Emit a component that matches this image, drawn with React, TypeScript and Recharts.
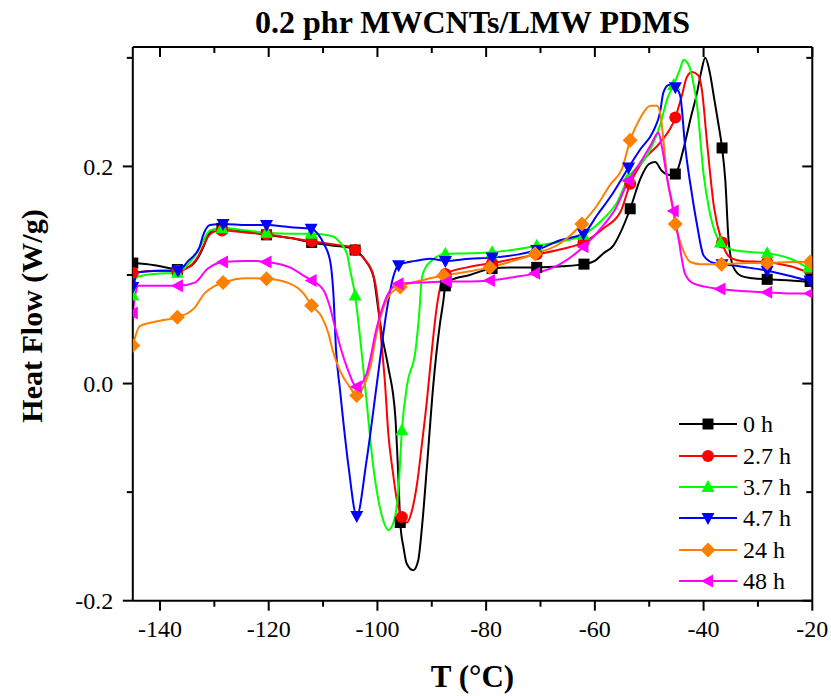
import React from 'react'
import { LineChart, Line, XAxis, YAxis, Legend } from 'recharts'

const SERIF = '"Liberation Serif", "Times New Roman", serif'

// axis ticks (every 10 / 0.1, labels only on the majors)
const xTicks = [-140, -130, -120, -110, -100, -90, -80, -70, -60, -50, -40, -30, -20]
const xMajor = [-140, -120, -100, -80, -60, -40, -20]
const yTicks = [-0.2, -0.1, 0, 0.1, 0.2, 0.3]
const yMajor = [-0.2, 0, 0.2]

// 0 h
const t0 = [-145, -141, -137.9, -136.8, -134.5, -133, -132, -131.2, -130, -128.6, -124, -120.4, -116, -112.1, -108, -105, -104.1, -102.3, -100.7, -99.8, -99.2, -98, -96.7, -96.1, -95.8, -95.2, -94.6, -93.4, -92.5, -91.8, -90.9, -89.7, -88.5, -87.9, -87.5, -86.6, -83, -78.9, -74, -70.7, -66, -62, -60, -58.4, -56.6, -55.3, -53.5, -51.6, -50.1, -48.9, -47.7, -46.1, -45.2, -43.7, -42.4, -41.2, -40.4, -39.7, -38.8, -38.1, -37.3, -36.6, -36, -35.4, -34.5, -33, -31, -28.3, -24, -20.4, -20]
const hf0 = [0.111, 0.109, 0.106, 0.105, 0.108, 0.116, 0.126, 0.136, 0.142, 0.143, 0.14, 0.137, 0.134, 0.13, 0.127, 0.125, 0.123, 0.114, 0.098, 0.067, 0.046, 0.015, -0.031, -0.092, -0.128, -0.151, -0.166, -0.172, -0.163, -0.132, -0.077, 0, 0.055, 0.075, 0.09, 0.095, 0.1, 0.106, 0.107, 0.107, 0.108, 0.11, 0.113, 0.12, 0.127, 0.139, 0.161, 0.189, 0.202, 0.204, 0.196, 0.192, 0.193, 0.216, 0.244, 0.268, 0.288, 0.3, 0.285, 0.264, 0.24, 0.217, 0.187, 0.132, 0.107, 0.099, 0.097, 0.096, 0.095, 0.094, 0.094]
const m0 = [-145, -136.8, -128.6, -120.4, -112.1, -104.1, -95.8, -87.5, -78.9, -70.7, -62, -53.5, -45.2, -36.6, -28.3, -20.4]

// 2.7 h
const t1 = [-145, -141, -136.8, -134.5, -133, -132, -131.2, -130, -128.6, -124, -120.4, -116, -112.1, -108, -105, -104.1, -102.3, -100.7, -99.8, -99.3, -98.6, -98, -97.2, -96.4, -95.5, -94.6, -93.7, -92.7, -91.8, -90.9, -90, -89.1, -88.3, -87.5, -83.5, -78.9, -73.7, -70.7, -66, -62.1, -58.4, -55.3, -53.5, -51, -48, -45.2, -44, -43.1, -42.1, -41, -40.3, -39.4, -38.1, -36.6, -35.1, -33, -28.3, -24, -20.4, -20]
const hf1 = [0.102, 0.104, 0.104, 0.108, 0.117, 0.127, 0.135, 0.14, 0.141, 0.139, 0.1375, 0.134, 0.131, 0.128, 0.126, 0.123, 0.114, 0.099, 0.07, 0.04, 0, -0.046, -0.08, -0.108, -0.123, -0.128, -0.118, -0.092, -0.055, -0.016, 0.03, 0.07, 0.092, 0.101, 0.107, 0.111, 0.116, 0.119, 0.124, 0.13, 0.143, 0.158, 0.184, 0.206, 0.222, 0.245, 0.265, 0.282, 0.287, 0.284, 0.27, 0.224, 0.163, 0.13, 0.116, 0.113, 0.112, 0.108, 0.103, 0.103]
const m1 = [-145, -136.8, -128.6, -120.4, -112.1, -104.1, -95.5, -87.5, -78.9, -70.7, -62.1, -53.5, -45.2, -36.6, -28.3, -20.4]

// 3.7 h
const t2 = [-145, -144.3, -141, -136.8, -134.8, -133, -132, -130.8, -128.6, -124, -120.4, -116, -112.2, -108.4, -106.9, -105.6, -105, -104.1, -103.2, -102, -100.8, -99.8, -98.8, -98, -97.2, -96.5, -96.1, -95.5, -94.5, -93, -92.3, -91.8, -91, -90.3, -87.5, -83, -78.9, -74, -70.7, -66, -62.1, -58.4, -55.9, -53.8, -50.4, -48, -46.7, -45.5, -44.3, -43.7, -42.7, -41.7, -41.2, -40, -38.8, -36.9, -34.5, -31, -28.3, -24, -20.7, -20]
const hf2 = [0.081, 0.098, 0.101, 0.102, 0.11, 0.122, 0.132, 0.141, 0.143, 0.141, 0.139, 0.138, 0.138, 0.136, 0.13, 0.1195, 0.104, 0.081, 0.043, -0.016, -0.075, -0.108, -0.128, -0.135, -0.13, -0.115, -0.095, -0.043, 0, 0.03, 0.065, 0.098, 0.108, 0.112, 0.1195, 0.12, 0.121, 0.124, 0.127, 0.131, 0.137, 0.152, 0.167, 0.19, 0.21, 0.238, 0.262, 0.275, 0.29, 0.298, 0.293, 0.272, 0.256, 0.193, 0.156, 0.13, 0.123, 0.121, 0.12, 0.115, 0.107, 0.106]
const m2 = [-145, -136.8, -128.6, -120.4, -112.2, -104.1, -95.5, -87.5, -78.9, -70.7, -62.1, -53.8, -45.5, -36.9, -28.3, -20.7]

// 4.7 h
const t3 = [-145, -144, -140, -136.7, -134.8, -132.7, -132.1, -130.8, -128.4, -124, -120.4, -116, -112.2, -111, -109.9, -108.7, -108.1, -107.6, -106.9, -105.3, -103.8, -102, -100.1, -98.3, -97.1, -96.1, -93, -90.3, -87.5, -83, -78.9, -74, -70.7, -66.4, -62.1, -59.6, -56.6, -53.8, -51.6, -49.2, -48, -47.4, -46.4, -45.2, -44.3, -43.4, -42.1, -41.2, -40, -38.1, -36.6, -32, -28.3, -24, -20.4, -20]
const hf3 = [0.089, 0.1026, 0.104, 0.104, 0.113, 0.126, 0.136, 0.146, 0.147, 0.146, 0.146, 0.144, 0.1426, 0.138, 0.129, 0.113, 0.083, 0.03, -0.005, -0.077, -0.122, -0.071, 0, 0.067, 0.098, 0.109, 0.113, 0.115, 0.113, 0.115, 0.116, 0.119, 0.123, 0.132, 0.138, 0.155, 0.176, 0.199, 0.216, 0.233, 0.25, 0.268, 0.275, 0.273, 0.265, 0.219, 0.173, 0.146, 0.118, 0.111, 0.11, 0.107, 0.104, 0.099, 0.095, 0.095]
const m3 = [-145, -136.7, -128.4, -120.4, -112.2, -103.8, -96.1, -87.5, -78.9, -70.7, -62.1, -53.8, -45.2, -36.6, -28.3, -20.4]

// 24 h
const t4 = [-145, -143.7, -139.8, -136.8, -133.6, -131.8, -129.9, -128.4, -124, -120.4, -116.1, -113.6, -112.1, -110.2, -109, -108.2, -106.9, -105.1, -103.8, -102.3, -101.3, -100.2, -99.2, -97.7, -95.8, -92, -87.8, -83.5, -79.3, -75, -71, -66.4, -62.4, -59.6, -57.2, -55, -53.5, -51.6, -49.8, -48.6, -48, -47.4, -46.7, -46, -45.2, -44, -42.4, -40.6, -36.7, -32, -28.3, -24, -20.4, -20]
const hf4 = [0.035, 0.053, 0.058, 0.061, 0.07, 0.083, 0.09, 0.093, 0.097, 0.0965, 0.092, 0.083, 0.072, 0.061, 0.046, 0.03, 0.012, -0.003, -0.011, 0, 0.015, 0.045, 0.065, 0.082, 0.089, 0.095, 0.0995, 0.103, 0.107, 0.113, 0.1195, 0.129, 0.147, 0.164, 0.183, 0.198, 0.224, 0.245, 0.256, 0.256, 0.25, 0.225, 0.189, 0.17, 0.147, 0.126, 0.112, 0.11, 0.11, 0.111, 0.111, 0.112, 0.112, 0.112]
const m4 = [-145, -136.8, -128.4, -120.4, -112.1, -103.8, -95.8, -87.8, -79.3, -71, -62.4, -53.5, -45.2, -36.7, -28.3, -20.4]

// 48 h
const t5 = [-145, -144.6, -144, -140, -136.7, -133.6, -131.2, -129.3, -128.4, -124, -120.4, -116.1, -113.6, -112.1, -109.9, -108.7, -107.8, -106.6, -105.6, -103.8, -102, -100.1, -98.3, -96.1, -92, -87.2, -83, -79.3, -75, -71, -66.4, -62.1, -58.4, -56.2, -53.8, -51.6, -49.8, -48.3, -47.7, -46.7, -45.5, -44.6, -43.4, -41.8, -36.9, -32, -28.3, -24, -20.4, -20]
const hf5 = [0.065, 0.08, 0.09, 0.09, 0.09, 0.093, 0.106, 0.111, 0.112, 0.113, 0.112, 0.107, 0.0995, 0.095, 0.086, 0.07, 0.052, 0.03, 0.015, -0.003, 0.009, 0.052, 0.08, 0.092, 0.093, 0.094, 0.094, 0.095, 0.098, 0.1015, 0.11, 0.126, 0.146, 0.161, 0.187, 0.204, 0.219, 0.231, 0.219, 0.189, 0.159, 0.133, 0.101, 0.092, 0.087, 0.085, 0.084, 0.083, 0.083, 0.083]
const m5 = [-145, -136.7, -128.4, -120.4, -112.1, -103.8, -96.1, -87.2, -79.3, -71, -62.1, -53.8, -45.5, -36.9, -28.3, -20.4]

type Shape = 'square' | 'circle' | 'up' | 'down' | 'diamond' | 'left'

const build = (t: number[], hf: number[], marks: number[]) =>
  t.map((x, i) => ({ t: x, hf: hf[i], m: marks.includes(x) }))

const series: { name: string; color: string; shape: Shape; data: any[] }[] = [
  { name: '0 h', color: '#000000', shape: 'square', data: build(t0, hf0, m0) },
  { name: '2.7 h', color: '#ff0000', shape: 'circle', data: build(t1, hf1, m1) },
  { name: '3.7 h', color: '#00ff00', shape: 'up', data: build(t2, hf2, m2) },
  { name: '4.7 h', color: '#0000ff', shape: 'down', data: build(t3, hf3, m3) },
  { name: '24 h', color: '#ff8000', shape: 'diamond', data: build(t4, hf4, m4) },
  { name: '48 h', color: '#ff00ff', shape: 'left', data: build(t5, hf5, m5) }
]

const marker = (shape: Shape, color: string, cx: number, cy: number, key?: string) => {
  switch (shape) {
    case 'square':
      return <rect key={key} x={cx - 5.5} y={cy - 5.5} width={11} height={11} fill={color} />
    case 'circle':
      return <circle key={key} cx={cx} cy={cy} r={6} fill={color} />
    case 'up':
      return <polygon key={key} points={`${cx},${cy - 7} ${cx + 6.5},${cy + 5} ${cx - 6.5},${cy + 5}`} fill={color} />
    case 'down':
      return <polygon key={key} points={`${cx},${cy + 7} ${cx + 6.5},${cy - 5} ${cx - 6.5},${cy - 5}`} fill={color} />
    case 'diamond':
      return <polygon key={key} points={`${cx},${cy - 7.5} ${cx + 7.5},${cy} ${cx},${cy + 7.5} ${cx - 7.5},${cy}`} fill={color} />
    default:
      return <polygon key={key} points={`${cx - 7},${cy} ${cx + 5},${cy - 6.5} ${cx + 5},${cy + 6.5}`} fill={color} />
  }
}

const isMajorY = (v: number) => yMajor.some((m) => Math.abs(m - v) < 1e-9)

// ticks drawn by hand so majors/minors get different lengths
const BottomTick = (props: any) => {
  const { x, y, payload } = props
  const major = xMajor.includes(payload.value)
  return (
    <g>
      <line x1={x} y1={y} x2={x} y2={y + (major ? 10 : 6)} stroke="#000" strokeWidth={2} />
      {major && (
        <text x={x} y={y + 36} textAnchor="middle" fontSize={24} fontFamily={SERIF} fill="#000">
          {payload.value}
        </text>
      )}
    </g>
  )
}

const TopTick = (props: any) => {
  const { x, y, payload } = props
  const major = xMajor.includes(payload.value)
  return <line x1={x} y1={y} x2={x} y2={y + (major ? 10 : 6)} stroke="#000" strokeWidth={2} />
}

const LeftTick = (props: any) => {
  const { x, y, payload } = props
  const major = isMajorY(payload.value)
  return (
    <g>
      <line x1={x} y1={y} x2={x - (major ? 10 : 6)} y2={y} stroke="#000" strokeWidth={2} />
      {major && (
        <text x={x - 19.5} y={y} dy="0.35em" textAnchor="end" fontSize={24} fontFamily={SERIF} fill="#000">
          {payload.value.toFixed(1)}
        </text>
      )}
    </g>
  )
}

const RightTick = (props: any) => {
  const { x, y, payload } = props
  const major = isMajorY(payload.value)
  return <line x1={x} y1={y} x2={x - (major ? 10 : 6)} y2={y} stroke="#000" strokeWidth={2} />
}

const LegendBox = () => (
  <div style={{ fontFamily: SERIF, fontSize: 24, color: '#000' }}>
    {series.map((s) => (
      <div key={s.name} style={{ display: 'flex', alignItems: 'center', height: 31.4 }}>
        <svg width={62} height={20} style={{ display: 'block' }}>
          <line x1={3} y1={10} x2={61} y2={10} stroke={s.color} strokeWidth={2} />
          {marker(s.shape, s.color, 32, 10)}
        </svg>
        <span style={{ marginLeft: 5, lineHeight: '24px' }}>{s.name}</span>
      </div>
    ))}
  </div>
)

const axisLine = { stroke: '#000', strokeWidth: 2 }

export default function App() {
  return (
    <div style={{ position: 'absolute', left: 0, top: 0, width: 831, height: 696, background: '#fff' }}>
      <div
        style={{
          position: 'absolute',
          left: 132.8,
          width: 679.5,
          top: 6,
          textAlign: 'center',
          fontFamily: SERIF,
          fontWeight: 'bold',
          fontSize: 32,
          lineHeight: '32px',
          color: '#000',
          whiteSpace: 'nowrap'
        }}
      >
        0.2 phr MWCNTs/LMW PDMS
      </div>
      <LineChart
        width={831}
        height={696}
        margin={{ top: 47, right: 18.7, left: 0, bottom: 0 }}
        style={{ position: 'absolute', left: 0, top: 0 }}
      >
        <XAxis
          xAxisId="b"
          dataKey="t"
          type="number"
          domain={[-145, -20]}
          allowDataOverflow
          ticks={xTicks}
          interval={0}
          height={95.3}
          tickSize={0}
          tickMargin={0}
          tickLine={false}
          axisLine={axisLine}
          tick={<BottomTick />}
          label={{
            content: () => (
              <text x={472.5} y={687} textAnchor="middle" fontSize={31} fontWeight="bold" fontFamily={SERIF} fill="#000">
                T (°C)
              </text>
            )
          }}
        />
        <XAxis
          xAxisId="t"
          orientation="top"
          mirror
          dataKey="t"
          type="number"
          domain={[-145, -20]}
          allowDataOverflow
          ticks={xTicks}
          interval={0}
          tickSize={0}
          tickMargin={0}
          tickLine={false}
          axisLine={axisLine}
          tick={<TopTick />}
        />
        <YAxis
          yAxisId="l"
          type="number"
          domain={[-0.2, 0.31]}
          allowDataOverflow
          ticks={yTicks}
          interval={0}
          width={132.8}
          tickSize={0}
          tickMargin={0}
          tickLine={false}
          axisLine={axisLine}
          tick={<LeftTick />}
          label={{
            content: () => (
              <text
                transform="translate(42,316) rotate(-90)"
                textAnchor="middle"
                fontSize={30}
                fontWeight="bold"
                fontFamily={SERIF}
                fill="#000"
              >
                Heat Flow (W/g)
              </text>
            )
          }}
        />
        <YAxis
          yAxisId="r"
          orientation="right"
          mirror
          type="number"
          domain={[-0.2, 0.31]}
          allowDataOverflow
          ticks={yTicks}
          interval={0}
          tickSize={0}
          tickMargin={0}
          tickLine={false}
          axisLine={axisLine}
          tick={<RightTick />}
        />
        <Legend
          layout="vertical"
          align="center"
          verticalAlign="middle"
          content={<LegendBox />}
          wrapperStyle={{ left: 676, top: 408.5, width: 150 }}
        />
        {series.map((s) => (
          <Line
            key={s.name}
            name={s.name}
            data={s.data}
            dataKey="hf"
            xAxisId="b"
            yAxisId="l"
            type="monotone"
            stroke={s.color}
            strokeWidth={2}
            isAnimationActive={false}
            activeDot={false}
            dot={(p: any) =>
              p.payload && p.payload.m ? marker(s.shape, s.color, p.cx, p.cy, `${s.name}-${p.index}`) : <g key={`${s.name}-${p.index}`} />
            }
          />
        ))}
      </LineChart>
    </div>
  )
}
